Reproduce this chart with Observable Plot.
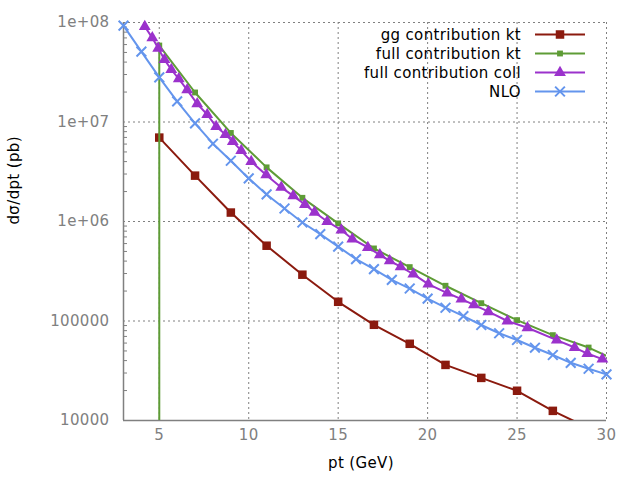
<!DOCTYPE html>
<html>
<head>
<meta charset="utf-8">
<script src="https://cdn.jsdelivr.net/npm/d3@7"></script>
<script src="https://cdn.jsdelivr.net/npm/@observablehq/plot@0.6"></script>
<style>
  html, body { margin: 0; padding: 0; background: #fff; }
  #chart svg { display: block; }
  #chart svg text { letter-spacing: 0.35px; }
</style>
</head>
<body>
<div id="chart"></div>
<script>
// Transverse-momentum spectra, dσ/dpt in pb, log scale
const ggPt = [5, 7, 9, 11, 13, 15, 17, 19, 21, 23, 25, 27, 29];
const ggSigma = [6.97e6, 2.89e6, 1.23e6, 5.71e5, 2.92e5, 1.56e5, 9.16e4, 5.9e4, 3.62e4, 2.68e4, 1.99e4, 1.25e4, 8.4e3];

// kt full contribution: the curve starts at pt = 5 from a negligible value
const fullKtPt = [5, 5, 7, 9, 11, 13, 15, 17, 19, 21, 23, 25, 27, 29, 31];
const fullKtSigma = [1e2, 5.87e7, 1.98e7, 7.76e6, 3.5e6, 1.73e6, 9.57e5, 5.36e5, 3.48e5, 2.26e5, 1.51e5, 1.02e5, 7.21e4, 5.41e4, 3.68e4];

const fullCollPt = [4.19, 4.61, 4.94, 5.29, 5.67, 6.09, 6.56, 7.12, 7.68, 8.18, 8.70, 9.11, 9.58, 10.14,
  10.98, 11.82, 12.49, 13.14, 13.68, 14.39, 15.18, 15.79, 16.66, 17.33, 17.88, 18.49, 19.20, 20.04,
  21.10, 21.89, 22.59, 23.40, 24.46, 25.58, 27.22, 28.22, 28.93, 29.77, 30.8];
const fullCollSigma = [9.12e7, 7.01e7, 5.51e7, 4.24e7, 3.37e7, 2.71e7, 2.1e7, 1.52e7, 1.19e7, 8.99e6, 7.47e6, 6.35e6, 5.15e6, 4.0e6,
  2.94e6, 2.2e6, 1.81e6, 1.48e6, 1.24e6, 1.0e6, 8.21e5, 6.67e5, 5.48e5, 4.63e5, 4.03e5, 3.51e5, 2.96e5, 2.35e5,
  1.91e5, 1.66e5, 1.45e5, 1.24e5, 1.0e5, 8.55e4, 6.43e4, 5.41e4, 4.71e4, 4.14e4, 3.55e4];

const nloPt = [3, 4, 5, 6, 7, 8, 9, 10, 11, 12, 13, 14, 15, 16, 17, 18, 19, 20, 21, 22, 23, 24, 25, 26, 27, 28, 29, 30];
const nloSigma = [9.3e7, 5.1e7, 2.81e7, 1.61e7, 9.7e6, 6.05e6, 4.08e6, 2.71e6, 1.87e6, 1.35e6, 9.77e5, 7.47e5, 5.6e5, 4.19e5,
  3.32e5, 2.59e5, 2.12e5, 1.68e5, 1.36e5, 1.12e5, 9.12e4, 7.53e4, 6.44e4, 5.39e4, 4.55e4, 3.8e4, 3.31e4, 2.91e4];

const seriesNames = ["gg contribution kt", "full contribution kt", "full contribution coll", "NLO"];
const seriesColors = ["#8b1a0e", "#5e9c36", "#9b32cc", "#6495ed"];

const xDomain = [3, 30];
const yDomain = [1e4, 1e8];
const xTicks = [5, 10, 15, 20, 25, 30];
const yTicks = [1e4, 1e5, 1e6, 1e7, 1e8];
const yTickLabels = ["10000", "100000", "1e+06", "1e+07", "1e+08"];
const xTitle = "pt (GeV)";
const yTitle = "dσ/dpt (pb)";

const series = [
  {name: seriesNames[0], color: seriesColors[0], symbol: "square", r: 4.8, filled: true, pt: ggPt, sigma: ggSigma},
  {name: seriesNames[1], color: seriesColors[1], symbol: "square", r: 3.3, filled: true, pt: fullKtPt, sigma: fullKtSigma},
  {name: seriesNames[2], color: seriesColors[2], symbol: "triangle", r: 4.4, filled: true, pt: fullCollPt, sigma: fullCollSigma},
  {name: seriesNames[3], color: seriesColors[3], symbol: "times", r: 4.5, filled: false, pt: nloPt, sigma: nloSigma}
].map(s => ({...s, rows: s.pt.map((x, i) => ({x, y: s.sigma[i]}))}));

// minor log ticks 2..9 per decade
const yMinor = [];
for (let e = 4; e < 8; e++) for (let m = 2; m <= 9; m++) yMinor.push(m * 10 ** e);

const inFrame = d => d.x >= xDomain[0] && d.x <= xDomain[1] && d.y >= yDomain[0] && d.y <= yDomain[1];
const gray = "#808080";

const marks = [
  Plot.gridY(yTicks, {stroke: gray, strokeOpacity: 1, strokeDasharray: "2,3"}),
  Plot.gridX(xTicks, {stroke: gray, strokeOpacity: 1, strokeDasharray: "2,3"}),
  Plot.ruleX([xDomain[0]], {stroke: gray, strokeWidth: 1.5}),
  Plot.ruleY([yDomain[0]], {stroke: gray, strokeWidth: 1.5}),
  Plot.axisY(yMinor, {anchor: "left", tickSize: -4, stroke: gray, fill: "none", label: null}),
  Plot.axisY(yTicks, {anchor: "left", tickSize: 0, tickPadding: 14, fill: gray, label: null,
    tickFormat: d => yTickLabels[yTicks.indexOf(d)]}),
  Plot.axisX(xTicks, {anchor: "bottom", tickSize: 0, tickPadding: 9, fill: gray, label: null}),
  Plot.text([xTitle], {frameAnchor: "bottom", text: d => d, dy: 47, dx: -4, fill: "#000"}),
  Plot.text([yTitle], {frameAnchor: "left", text: d => d, rotate: -90, dx: -109, dy: 3, fill: "#000"})
];

for (const s of series) {
  marks.push(Plot.line(s.rows, {x: "x", y: "y", stroke: s.color, strokeWidth: 2, clip: true}));
  marks.push(Plot.dot(s.rows.filter(inFrame), {
    x: "x", y: "y", symbol: s.symbol, r: s.r,
    fill: s.filled ? s.color : "none",
    stroke: s.filled ? "none" : s.color,
    strokeWidth: 2
  }));
}

const chart = Plot.plot({
  width: 640,
  height: 480,
  marginLeft: 123,
  marginRight: 34,
  marginTop: 22,
  marginBottom: 60,
  style: {fontFamily: "DejaVu Sans", fontSize: "15px", background: "#fff", color: "#000"},
  x: {type: "linear", domain: xDomain},
  y: {type: "log", domain: yDomain},
  marks
});

// key in the upper-right corner of the frame
const svg = d3.select(chart);
const key = svg.append("g").attr("font-family", "DejaVu Sans").attr("font-size", 15);
const symbolTypes = {square: d3.symbolSquare, triangle: d3.symbolTriangle, times: d3.symbolTimes};
series.forEach((s, i) => {
  const yRow = 34.5 + 19 * i;
  key.append("text")
    .attr("x", 521).attr("y", yRow)
    .attr("text-anchor", "end").attr("dy", "0.35em")
    .attr("fill", "#000").text(s.name);
  key.append("line")
    .attr("x1", 535).attr("x2", 585).attr("y1", yRow).attr("y2", yRow)
    .attr("stroke", s.color).attr("stroke-width", 2);
  key.append("path")
    .attr("transform", `translate(560,${yRow})`)
    .attr("d", d3.symbol(symbolTypes[s.symbol], Math.PI * s.r * s.r)())
    .attr("fill", s.filled ? s.color : "none")
    .attr("stroke", s.filled ? "none" : s.color)
    .attr("stroke-width", 2);
});

document.getElementById("chart").appendChild(chart);
</script>
</body>
</html>
